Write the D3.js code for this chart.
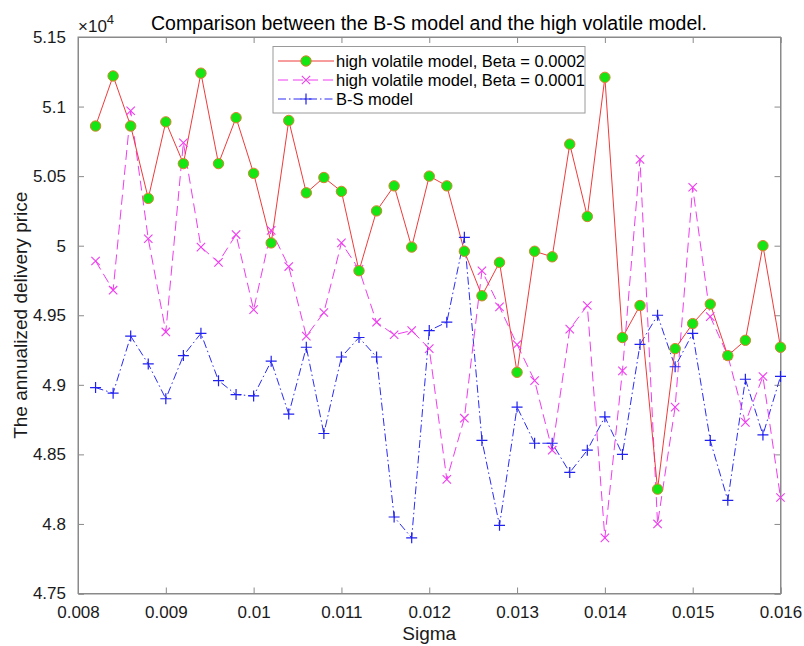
<!DOCTYPE html>
<html>
<head>
<meta charset="utf-8">
<script src="https://cdn.jsdelivr.net/npm/d3@7"></script>
<style>
html,body{margin:0;padding:0;background:#fff;}
svg{display:block;font-family:"Liberation Sans",Arial,Helvetica,sans-serif;}
</style>
</head>
<body>
<svg id="chart" width="804" height="646"></svg>
<script>
// Sigma values (x)
const sigma = [0.0082,0.0084,0.0086,0.0088,0.0090,0.0092,0.0094,0.0096,0.0098,0.0100,
               0.0102,0.0104,0.0106,0.0108,0.0110,0.0112,0.0114,0.0116,0.0118,0.0120,
               0.0122,0.0124,0.0126,0.0128,0.0130,0.0132,0.0134,0.0136,0.0138,0.0140,
               0.0142,0.0144,0.0146,0.0148,0.0150,0.0152,0.0154,0.0156,0.0158,0.0160];
// values in units of 1e4
const beta0002 = [5.086,5.122,5.086,5.034,5.089,5.059,5.124,5.059,5.092,5.052,
                  5.002,5.090,5.038,5.049,5.039,4.982,5.025,5.043,4.999,5.050,
                  5.043,4.996,4.964,4.988,4.909,4.996,4.992,5.073,5.021,5.121,
                  4.934,4.957,4.825,4.926,4.944,4.958,4.921,4.932,5.000,4.927];
const beta0001 = [4.989,4.968,5.097,5.005,4.938,5.074,4.999,4.988,5.008,4.954,
                  5.011,4.985,4.935,4.952,5.002,4.983,4.945,4.936,4.939,4.926,
                  4.832,4.876,4.982,4.956,4.929,4.903,4.853,4.940,4.957,4.790,
                  4.910,5.062,4.800,4.884,5.042,4.949,4.921,4.873,4.906,4.819];
const bsModel  = [4.898,4.894,4.935,4.915,4.890,4.921,4.937,4.903,4.893,4.892,
                  4.917,4.879,4.927,4.865,4.920,4.934,4.920,4.805,4.790,4.939,
                  4.945,5.006,4.860,4.799,4.884,4.858,4.858,4.837,4.853,4.877,
                  4.850,4.929,4.950,4.913,4.937,4.860,4.817,4.904,4.864,4.906];
const xTicks = [0.008,0.009,0.010,0.011,0.012,0.013,0.014,0.015,0.016];
const xTickLabels = ["0.008","0.009","0.01","0.011","0.012","0.013","0.014","0.015","0.016"];
const yTicks = [4.75,4.80,4.85,4.90,4.95,5.00,5.05,5.10,5.15];
const yTickLabels = ["4.75","4.8","4.85","4.9","4.95","5","5.05","5.1","5.15"];
const seriesNames = ["high volatile model, Beta = 0.0002","high volatile model, Beta = 0.0001","B-S model"];
const titleText = "Comparison between the B-S model and the high volatile model.";
const xLabel = "Sigma";
const yLabel = "The annualized delivery price";

const svg = d3.select("#chart");
const L = 78, R = 780.5, T = 37, B = 593.5;
const x = d3.scaleLinear().domain([0.008,0.016]).range([L,R]);
const y = d3.scaleLinear().domain([4.75,5.15]).range([B,T]);
const axisCol = "#8a8a8a", textCol = "#1a1a1a";

// box
svg.append("rect").attr("x",L).attr("y",T).attr("width",R-L).attr("height",B-T)
  .attr("fill","none").attr("stroke",axisCol).attr("stroke-width",1);

// axes (ticks inside)
const gxB = svg.append("g").attr("transform",`translate(0,${B})`)
  .call(d3.axisBottom(x).tickValues(xTicks).tickSize(-6).tickPadding(12)
        .tickFormat((d,i)=>xTickLabels[i]));
const gxT = svg.append("g").attr("transform",`translate(0,${T})`)
  .call(d3.axisTop(x).tickValues(xTicks).tickSize(-6).tickFormat(""));
const gyL = svg.append("g").attr("transform",`translate(${L},0)`)
  .call(d3.axisLeft(y).tickValues(yTicks).tickSize(-6).tickPadding(12)
        .tickFormat((d,i)=>yTickLabels[i]));
const gyR = svg.append("g").attr("transform",`translate(${R},0)`)
  .call(d3.axisRight(y).tickValues(yTicks).tickSize(-6).tickFormat(""));
[gxB,gxT,gyL,gyR].forEach(g=>{
  g.select(".domain").attr("stroke",axisCol);
  g.selectAll(".tick line").attr("stroke",axisCol);
  g.selectAll(".tick text").attr("fill",textCol).style("font-size","17px")
    .style("font-family",'"Liberation Sans",Arial,sans-serif');
});
gxB.selectAll(".tick text").attr("dy","0.71em");

// exponent label
const ex = svg.append("text").attr("x",L).attr("y",32).attr("fill",textCol)
  .style("font-size","17px");
ex.append("tspan").text("\u00d710");
ex.append("tspan").attr("dy",-8).style("font-size","13px").text("4");

// title
svg.append("text").attr("x",429).attr("y",30).attr("text-anchor","middle")
  .attr("fill","#000").style("font-size","19.5px").text(titleText);
// x label
svg.append("text").attr("x",(L+R)/2).attr("y",640).attr("text-anchor","middle")
  .attr("fill",textCol).style("font-size","19px").text(xLabel);
// y label
svg.append("text").attr("transform",`translate(27,${(T+B)/2}) rotate(-90)`)
  .attr("text-anchor","middle").attr("fill",textCol).style("font-size","19px").text(yLabel);

const line = vals => d3.line().x((d,i)=>x(sigma[i])).y(d=>y(d))(vals);

// blue B-S
svg.append("path").attr("d",line(bsModel)).attr("fill","none")
  .attr("stroke","#2b2bf5").attr("stroke-width",1).attr("stroke-dasharray","8,3,1.5,3");
// magenta
svg.append("path").attr("d",line(beta0001)).attr("fill","none")
  .attr("stroke","#f03cf0").attr("stroke-width",1).attr("stroke-dasharray","10,5");
// red
svg.append("path").attr("d",line(beta0002)).attr("fill","none")
  .attr("stroke","#f03a3a").attr("stroke-width",1);

const mk = svg.append("g");
function plus(g,cx,cy,s,col){
  g.append("path").attr("d",`M${cx-s},${cy}H${cx+s}M${cx},${cy-s}V${cy+s}`)
   .attr("stroke",col).attr("stroke-width",1.2).attr("fill","none");
}
function cross(g,cx,cy,s,col){
  g.append("path").attr("d",`M${cx-s},${cy-s}L${cx+s},${cy+s}M${cx-s},${cy+s}L${cx+s},${cy-s}`)
   .attr("stroke",col).attr("stroke-width",1.1).attr("fill","none");
}
function circ(g,cx,cy){
  g.append("circle").attr("cx",cx).attr("cy",cy).attr("r",5.2)
   .attr("fill","#14e614").attr("stroke","#d9822b").attr("stroke-width",1);
}
bsModel.forEach((v,i)=>plus(mk,x(sigma[i]),y(v),5.5,"#2020f0"));
beta0001.forEach((v,i)=>cross(mk,x(sigma[i]),y(v),4.2,"#f03cf0"));
beta0002.forEach((v,i)=>circ(mk,x(sigma[i]),y(v)));

// legend
const lg = svg.append("g");
lg.append("rect").attr("x",273).attr("y",46.5).attr("width",312).attr("height",66.5)
  .attr("fill","#fff").attr("stroke","#9a9a9a").attr("stroke-width",1);
const ly = [61,80,99];
const styles = [
  {stroke:"#f03a3a",dash:null},
  {stroke:"#f03cf0",dash:"10,5"},
  {stroke:"#2b2bf5",dash:"8,3,1.5,3"}
];
seriesNames.forEach((name,k)=>{
  const l = lg.append("line").attr("x1",278).attr("x2",334).attr("y1",ly[k]).attr("y2",ly[k])
    .attr("stroke",styles[k].stroke).attr("stroke-width",1);
  if(styles[k].dash) l.attr("stroke-dasharray",styles[k].dash);
  if(k===0) circ(lg,306,ly[k]);
  if(k===1) cross(lg,306,ly[k],4.2,"#f03cf0");
  if(k===2) plus(lg,306,ly[k],5.5,"#2020f0");
  lg.append("text").attr("x",336).attr("y",ly[k]).attr("dy","0.35em")
    .attr("fill","#000").style("font-size","16.5px").text(name);
});
</script>
</body>
</html>
